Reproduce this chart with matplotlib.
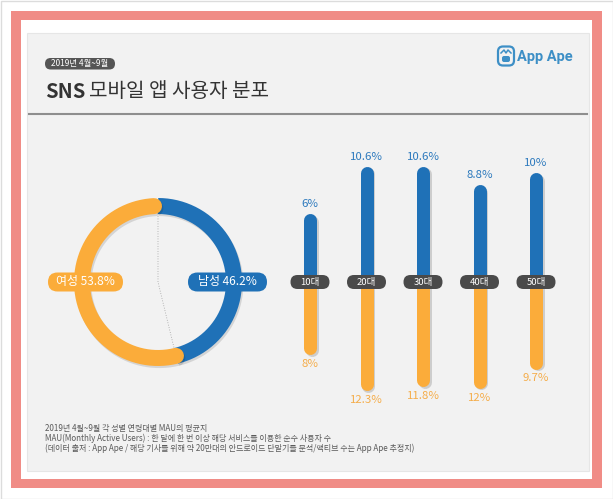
import numpy as np
import matplotlib
import matplotlib.pyplot as plt
from matplotlib.patches import Rectangle, FancyBboxPatch
import matplotlib.patheffects as pe

matplotlib.use("Agg")
plt.rcParams["font.family"] = ["Noto Sans CJK KR", "DejaVu Sans"]

# data
genders = ["남성", "여성"]
gender_share = [46.2, 53.8]
age_groups = ["10대", "20대", "30대", "40대", "50대"]
male_pct = [6, 10.6, 10.6, 8.8, 10]
female_pct = [8, 12.3, 11.8, 12, 9.7]

notes = [
    "2019년 4월~9월 각 성별 연령대별 MAU의 평균치",
    "MAU(Monthly Active Users) : 한 달에 한 번 이상 해당 서비스를 이용한 순수 사용자 수",
    "(데이터 출처 : App Ape / 해당 기사를 위해 약 20만대의 안드로이드 단말기를 분석/액티브 수는 App Ape 추정치)",
]

BLUE = "#1f71b7"
ORANGE = "#fbac3a"
BLUE_TXT = "#2c79bd"
ORANGE_TXT = "#f5ad4a"
DARK = "#4a4a4a"
W, H = 613, 499

fig = plt.figure(figsize=(W / 100, H / 100), dpi=100)
fig.patch.set_facecolor("white")


def px_axes(x0, y0, x1, y1, **kw):
    # axes placed by pixel box (y measured from top)
    return fig.add_axes([x0 / W, 1 - y1 / H, (x1 - x0) / W, (y1 - y0) / H], **kw)


# background frame
bg = px_axes(0, 0, W, H, zorder=0)
bg.set_xlim(0, W)
bg.set_ylim(H, 0)
bg.axis("off")
bg.add_patch(Rectangle((0.5, 0.5), W - 1, H - 1, fc="white", ec="#dcdcdc", lw=1))
bg.add_patch(Rectangle((11, 11), 591, 477, fc="#f08c86", ec="none"))
bg.add_patch(Rectangle((20.5, 20), 571.5, 459, fc="white", ec="none"))
bg.add_patch(Rectangle((27, 33), 562, 438, fc="#f2f2f2", ec="#e6e6e6", lw=0.8))
bg.plot([29, 587], [114, 114], color="#8e8e8e", lw=1.5)

# header
bg.add_patch(FancyBboxPatch((45, 58), 70, 11.5, boxstyle="round,pad=0,rounding_size=5.7",
                            fc="#555555", ec="none"))
bg.text(80, 63.5, "2019년 4월~9월", color="white", fontsize=6, ha="center", va="center")
bg.text(45, 91, "SNS", fontsize=14.5, fontweight="bold", color="#333333", va="center")
bg.text(89, 91, "모바일 앱 사용자 분포", fontsize=14.5, color="#333333", va="center")

# logo
LOGO = "#3d8fc6"
bg.add_patch(FancyBboxPatch((498, 46.5), 16, 19, boxstyle="round,pad=0,rounding_size=5",
                            fc="none", ec=LOGO, lw=1.6))
bg.plot([501, 504, 506, 508, 511], [53, 50, 53, 50, 53], color=LOGO, lw=1.1)
bg.add_patch(FancyBboxPatch((502, 56), 8, 6, boxstyle="round,pad=0,rounding_size=2",
                            fc=LOGO, ec="none"))
bg.text(517, 56.5, "App Ape", fontsize=10.5, fontweight="bold", color=LOGO,
        va="center", family=["Roboto", "DejaVu Sans"])

# notes
for k, line in enumerate(notes):
    bg.text(45, 428 + k * 10, line, fontsize=5.8, color="#5a5a5a", va="center")

# overlay for pills
fg = px_axes(0, 0, W, H, zorder=5)
fg.set_xlim(0, W)
fg.set_ylim(H, 0)
fg.axis("off")
fg.patch.set_alpha(0)


def pill(ax, x, y, w, h, color, text, fs, tc="white"):
    disp = ax.transData.transform((x, y))
    cx, cy = fg.transData.inverted().transform(disp)
    fg.add_patch(FancyBboxPatch((cx - w / 2, cy - h / 2), w, h,
                                boxstyle=f"round,pad=0,rounding_size={h / 2}",
                                fc=color, ec="none"))
    fg.text(cx, cy, text, color=tc, fontsize=fs, ha="center", va="center")


# donut
ax_d = px_axes(58, 182, 258, 382, zorder=2)
ax_d.set_xlim(-100, 100)
ax_d.set_ylim(-100, 100)
ax_d.axis("off")
r = 76
ring_lw = 16 * 0.72
shadow = [pe.SimpleLineShadow(offset=(1, -1.5), alpha=0.12, shadow_color="black"), pe.Normal()]
male_end = 90 - 360 * gender_share[0] / 100
t = np.radians(np.linspace(90, male_end, 200))
ax_d.plot(r * np.cos(t), r * np.sin(t), color=BLUE, lw=ring_lw, solid_capstyle="butt",
          path_effects=shadow, zorder=3)
t = np.radians(np.linspace(male_end, 90 - 360 + 3, 300))
ax_d.plot(r * np.cos(t), r * np.sin(t), color=ORANGE, lw=ring_lw, solid_capstyle="round",
          path_effects=shadow, zorder=4)
me = np.radians(male_end)
ax_d.plot([0, 0, r * np.cos(me)], [r, 0, r * np.sin(me)], color="#a0a0a0", lw=0.6,
          ls=(0, (1, 2)), zorder=2)
pill(ax_d, -r + 3.5, 0, 75, 19, ORANGE, f"{genders[1]} {gender_share[1]}%", 8.6)
pill(ax_d, r - 6.5, 0, 79, 19, BLUE, f"{genders[0]} {gender_share[0]}%", 8.6)

# age bars
ax_t = px_axes(281.75, 140, 564.25, 282, zorder=2)
ax_b = px_axes(281.75, 282, 564.25, 420, zorder=2)
ax_t.set_ylim(0, 142 / 10.3)
ax_b.set_ylim(138 / 8.3, 0)
bar_lw = 13 * 0.72
bar_fx = [pe.SimpleLineShadow(offset=(1.2, -1.2), alpha=0.15, shadow_color="black"), pe.Normal()]
for ax in (ax_t, ax_b):
    ax.set_xlim(-0.5, len(age_groups) - 0.5)
    ax.axis("off")
    ax.patch.set_alpha(0)

for i, (m, f) in enumerate(zip(male_pct, female_pct)):
    ax_b.plot([i, i], [0, f], color=ORANGE, lw=bar_lw, solid_capstyle="round",
              clip_on=False, path_effects=bar_fx)
    ax_t.plot([i, i], [0, m], color=BLUE, lw=bar_lw, solid_capstyle="round",
              clip_on=False, path_effects=bar_fx)
    ax_t.annotate(f"{m:g}%", (i, m), xytext=(0, 11.5), textcoords="offset points",
                  ha="center", va="center", color=BLUE_TXT, fontsize=8.2,
                  annotation_clip=False)
    ax_b.annotate(f"{f:g}%", (i, f), xytext=(0, -11.5), textcoords="offset points",
                  ha="center", va="center", color=ORANGE_TXT, fontsize=8.2,
                  annotation_clip=False)
    pill(ax_t, i, 0, 39, 14, DARK, age_groups[i], 6.8)

fig.savefig("out.png", dpi=100)
